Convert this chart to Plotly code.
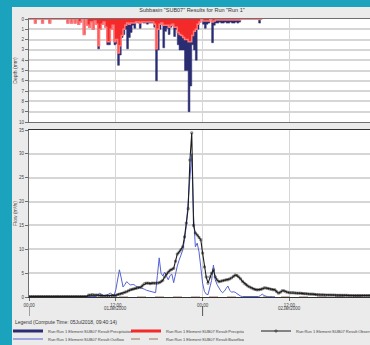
import pandas as pd
import plotly.graph_objects as go

# ---- data (15-minute intervals starting 01Jan2000 00:00) ----
precipitation = [
    0, 0, 0, 0.4, 0, 0, 0, 0.4, 0, 0, 0, 0.4, 0, 0, 0, 0, 0, 0, 0, 0,
    0, 0.4, 0, 0.4, 0, 0.4, 0, 0.5, 0.3, 0, 1.5, 0, 0.6, 0.8, 0.3, 1.0, 0.2, 0.5, 2.9, 1.0,
    0.5, 0.3, 0.8, 2.5, 2.5, 1.0, 0.6, 2.5, 2.4, 4.5, 3.5, 1.8, 1.5, 1.0, 2.9, 1.8, 1.3, 0.6, 0.9, 0.3,
    0.4, 0.9, 0.3, 0.4, 0.4, 0.5, 0.4, 0.4, 0.4, 0.8, 6.0, 3.0, 1.0, 0.5, 2.8, 1.2, 0.9, 1.5, 0.8, 0.6,
    1.7, 1.0, 2.5, 3.0, 3.0, 3.0, 5.0, 5.0, 9.0, 6.5, 2.5, 3.0, 4.0, 1.0, 0.3, 0, 0.5, 0.9, 0.5, 0.4,
    0, 2.3, 0.6, 0.4, 0.4, 0.3, 0.4, 0.4, 0.3, 0.4, 0.4, 0.3, 0.4, 0.4, 0.3, 0.4, 0.3, 0, 0, 0,
    0, 0, 0, 0, 0, 0, 0, 0.4, 0,
]
precipitation_loss = [
    0, 0, 0, 0.4, 0, 0, 0, 0.4, 0, 0, 0, 0.4, 0, 0, 0, 0, 0, 0, 0, 0,
    0, 0.4, 0, 0.4, 0, 0.4, 0, 0.5, 0.3, 0, 1.5, 0, 0.6, 0.8, 0.3, 1.0, 0.2, 0.5, 2.6, 1.0,
    0.5, 0.3, 0.8, 2.2, 2.2, 1.0, 0.6, 2.2, 2.0, 3.3, 2.6, 1.6, 1.0, 0.6, 0.4, 0.5, 0.4, 0.4, 0.4, 0.3,
    0.3, 0.4, 0.3, 0.3, 0.3, 0.3, 0.3, 0.3, 0.3, 0.5, 2.9, 1.0, 0.5, 0.4, 0.6, 0.6, 0.6, 0.8, 0.6, 0.5,
    0.8, 0.8, 1.3, 1.5, 1.6, 1.8, 2.0, 2.0, 2.2, 2.2, 1.6, 1.2, 1.0, 0.5, 0.3, 0, 0.2, 0.2, 0.2, 0.2,
    0, 0.3, 0.2, 0.1, 0.1, 0.1, 0.1, 0.1, 0.1, 0.1, 0.1, 0.1, 0.1, 0.1, 0.1, 0.1, 0.1, 0, 0, 0,
    0, 0, 0, 0, 0, 0, 0, 0.05, 0,
]
outflow = [
    0, 0, 0, 0, 0, 0, 0, 0, 0, 0, 0, 0, 0, 0, 0, 0, 0, 0, 0, 0,
    0, 0, 0, 0, 0, 0, 0, 0, 0, 0, 0, 0, 0, 0, 0, 0, 0, 0.1, 0.4, 0.8,
    0.6, 0.3, 0.3, 0.4, 0.6, 0.8, 0.5, 0.3, 1.5, 4.0, 5.7, 4.0, 2.1, 2.6, 3.2, 2.9, 2.5, 2.6, 2.6, 2.3,
    2.1, 2.0, 1.9, 1.8, 1.6, 1.4, 1.3, 1.2, 1.0, 0.9, 0.9, 4.5, 8.2, 5.0, 4.4, 5.2, 4.2, 3.6, 4.5, 4.8,
    3.0, 4.9, 6.5, 7.7, 8.6, 9.8, 12.0, 15.0, 20.0, 24.5, 30.0, 17.0, 10.5, 11.3, 9.5, 6.3, 2.9, 1.2, 0.6, 0.5,
    2.0, 3.5, 6.7, 3.6, 2.6, 1.9, 1.3, 0.9, 1.2, 1.8, 2.3, 1.4, 1.0, 1.1, 1.0, 0.7, 0.4, 0.2, 0.1, 0.1,
    0.1, 0.1, 0.1, 0.1, 0.1, 0.1, 0.1, 0.1, 0.3, 0.6, 0.3, 0.1, 0.05, 0.05, 0.05, 0.05, 0.05,
]
observed_flow = [
    0.1, 0.1, 0.1, 0.1, 0.1, 0.1, 0.1, 0.1, 0.1, 0.1, 0.1, 0.1, 0.1, 0.1, 0.1, 0.1, 0.1, 0.1, 0.1, 0.1,
    0.1, 0.1, 0.1, 0.1, 0.1, 0.1, 0.1, 0.1, 0.1, 0.1, 0.1, 0.1, 0.1, 0.4, 0.4, 0.5, 0.4, 0.4, 0.4, 0.3,
    0.3, 0.2, 0.2, 0.2, 0.2, 0.2, 0.3, 0.3, 0.3, 0.5, 0.6, 0.7, 0.8, 1.0, 1.1, 1.3, 1.5, 1.6, 1.7, 1.8,
    1.9, 2.0, 2.1, 2.5, 2.8, 2.9, 2.9, 2.8, 2.9, 2.9, 2.9, 2.9, 3.0, 3.2, 3.5, 4.2, 4.8, 5.2, 5.6, 5.8,
    6.0, 7.5, 9.0, 9.4, 9.9, 10.5, 12.6, 15.5, 18.5, 28.7, 34.4, 15.0, 13.4, 13.0, 12.5, 12.0, 9.2, 6.3, 4.2, 2.9,
    4.2, 5.0, 5.7, 4.2, 3.6, 3.2, 3.3, 3.4, 3.5, 3.6, 3.6, 3.8, 4.0, 4.3, 4.6, 4.5, 4.2, 3.8, 3.3, 2.9,
    2.6, 2.3, 2.1, 1.9, 1.7, 1.6, 1.5, 1.5, 1.6, 1.7, 1.9, 1.9, 1.8, 1.7, 1.6, 1.5, 1.5, 1.1, 0.8, 1.0,
    1.3, 1.3, 1.1, 1.0, 0.9, 0.9, 0.9, 0.85, 0.8, 0.8, 0.8, 0.75, 0.7, 0.7, 0.65, 0.6, 0.6, 0.6, 0.55, 0.5,
    0.5, 0.45, 0.45, 0.45, 0.4, 0.4, 0.4, 0.4, 0.4, 0.4, 0.35, 0.35, 0.35, 0.35, 0.35, 0.35, 0.35, 0.3, 0.3, 0.3,
    0.3, 0.3, 0.3, 0.3, 0.3, 0.3, 0.3, 0.3, 0.3, 0.3, 0.3, 0.3, 0.3,
]
baseflow_times = ["2000-01-01 00:00", "2000-01-03 00:00"]
baseflow = [0.0, 0.0]

x_tick_step_hours = 12
date_labels = ["01Jan2000", "02Jan2000"]
date_label_times = ["2000-01-01 12:00", "2000-01-02 12:00"]
day_boundaries = ["2000-01-01 00:00", "2000-01-02 00:00"]

chart_title = 'Subbasin "SUB07" Results for Run "Run 1"'
legend_title = "Legend (Compute Time: 05Jul2018, 09:40:14)"
prefix = "Run:Run 1 Element:SUB07 Result:"

START = "2000-01-01 00:00"


def times_for(values):
    return pd.date_range(START, periods=len(values), freq="15min")


# step series: each value holds over its 15-minute interval
def step_xy(values):
    t = list(pd.date_range(START, periods=len(values) + 1, freq="15min"))
    return t, list(values) + [values[-1]]


NAVY = "#2a2d72"
RED = "#f42a2a"
BLACK = "#1c1c1c"
BLUE = "#5563d4"
BROWN = "#a0705e"
TEAL = "#1ba3be"
PANEL = "#ebebeb"
GRID = "#d6d6d6"
AXIS = "#6f6f6f"
FONT = "Liberation Sans, Arial, sans-serif"

W, H = 460, 345
ML, MR, MT, MB = 29, W - 375, 19, 48
PW, PH = W - ML - MR, H - MT - MB


def px_x(p):
    return (p - ML) / PW


def px_y(p):
    return (H - MB - p) / PH


fig = go.Figure()

# precipitation and loss, hanging from the top axis
px_, py_ = step_xy(precipitation)
fig.add_trace(go.Scatter(x=px_, y=py_, mode="lines", line=dict(color=NAVY, width=0.5, shape="hv"),
                         fill="tozeroy", fillcolor=NAVY, showlegend=False, xaxis="x", yaxis="y"))
lx_, ly_ = step_xy(precipitation_loss)
fig.add_trace(go.Scatter(x=lx_, y=ly_, mode="lines", line=dict(color="#ff7777", width=1.5, shape="hv"),
                         fill="tozeroy", fillcolor=RED, showlegend=False, xaxis="x", yaxis="y"))

# flows
fig.add_trace(go.Scatter(x=pd.to_datetime(baseflow_times), y=baseflow, mode="lines",
                         line=dict(color=BROWN, width=1, dash="dash"),
                         name=prefix + "Baseflow", legend="legend2", legendrank=2,
                         xaxis="x2", yaxis="y2"))
fig.add_trace(go.Scatter(x=times_for(outflow), y=outflow, mode="lines",
                         line=dict(color=BLUE, width=1),
                         name=prefix + "Outflow", legend="legend2", legendrank=1,
                         xaxis="x2", yaxis="y2"))
fig.add_trace(go.Scatter(x=times_for(observed_flow), y=observed_flow, mode="lines+markers",
                         line=dict(color=BLACK, width=1.1),
                         marker=dict(symbol="square-open", size=2, color=BLACK, line=dict(width=0.5)),
                         name=prefix + "Observed Flow", legend="legend3",
                         xaxis="x2", yaxis="y2"))

# legend entries for the hanging series
fig.add_trace(go.Scatter(x=[None], y=[None], mode="lines", line=dict(color=NAVY, width=3),
                         name=prefix + "Precipitation", legend="legend", legendrank=1,
                         xaxis="x", yaxis="y"))
fig.add_trace(go.Scatter(x=[None], y=[None], mode="lines", line=dict(color=RED, width=3),
                         name=prefix + "Precipitation Loss", legend="legend", legendrank=2,
                         xaxis="x", yaxis="y"))

x_range = [pd.Timestamp("2000-01-01 00:00"), pd.Timestamp("2000-01-02 23:50")]
tick_font = dict(family=FONT, size=4.5, color="#444")
common_x = dict(range=x_range, type="date", dtick=x_tick_step_hours * 3600000,
                tick0="2000-01-01 00:00", showgrid=True, gridcolor=GRID, gridwidth=1.2,
                showline=True, linecolor=AXIS, linewidth=1, mirror=True, zeroline=False)
common_y = dict(showgrid=True, gridcolor=GRID, gridwidth=1.5, showline=True, linecolor=AXIS,
                linewidth=1, mirror=True, ticks="outside", ticklen=3, tickcolor=AXIS,
                tickfont=tick_font, zeroline=False, title_font=dict(size=5, color="#444"))

# teal frame round the panel
shapes = [
    dict(type="rect", xref="paper", yref="paper", x0=px_x(0), x1=px_x(12), y0=px_y(H), y1=px_y(0),
         fillcolor=TEAL, line=dict(width=0), layer="below"),
    dict(type="rect", xref="paper", yref="paper", x0=px_x(0), x1=px_x(W), y0=px_y(7), y1=px_y(0),
         fillcolor=TEAL, line=dict(width=0), layer="below"),
]
for d in day_boundaries:
    shapes.append(dict(type="line", xref="x2", yref="paper", x0=d, x1=d, y0=px_y(306), y1=px_y(316),
                       line=dict(color="#555", width=1)))

annotations = [
    dict(x=t, y=px_y(313), xref="x2", yref="paper", text=lab, showarrow=False,
         font=dict(family=FONT, size=4.5, color="#444"))
    for t, lab in zip(date_label_times, date_labels)
]
annotations.append(dict(x=px_x(13), y=px_y(322), xref="paper", yref="paper", xanchor="left",
                        yanchor="middle", text=legend_title, showarrow=False,
                        font=dict(family=FONT, size=5, color="#333")))

legend_common = dict(orientation="h", xanchor="left", yanchor="middle", bgcolor="rgba(0,0,0,0)",
                     font=dict(family=FONT, size=4, color="#444"), itemwidth=30,
                     tracegroupgap=0, borderwidth=0, entrywidth=73)

fig.update_layout(
    width=W, height=H,
    margin=dict(l=ML, r=MR, t=MT, b=MB, autoexpand=False),
    paper_bgcolor=PANEL, plot_bgcolor="white",
    font=dict(family=FONT, color="#333"),
    title=dict(text=chart_title, x=px_x(192), xref="paper", xanchor="center",
               y=1 - 10 / H, yanchor="middle", font=dict(size=5.5, color="#333")),
    xaxis=dict(common_x, anchor="y", showticklabels=False, ticks=""),
    xaxis2=dict(common_x, anchor="y2", matches="x", tickformat="%H:%M", ticks="outside",
                ticklen=3, tickcolor=AXIS, tickfont=tick_font, linecolor="#333", linewidth=1.2),
    yaxis=dict(common_y, domain=[px_y(122), 1], range=[10, 0], dtick=1,
               title=dict(text="Depth (mm)", standoff=1)),
    yaxis2=dict(common_y, domain=[0, px_y(130)], range=[0, 35], dtick=5,
                title=dict(text="Flow (m³/s)", standoff=1)),
    shapes=shapes,
    annotations=annotations,
    legend=dict(legend_common, x=px_x(8), y=px_y(331)),
    legend3=dict(legend_common, x=px_x(256), y=px_y(331)),
    legend2=dict(legend_common, x=px_x(8), y=px_y(339)),
    showlegend=True,
)

fig.write_html("out.html", post_script=(
    "document.documentElement.style.overflow='hidden';"
    "document.body.style.overflow='hidden';document.body.style.margin='0';"))
